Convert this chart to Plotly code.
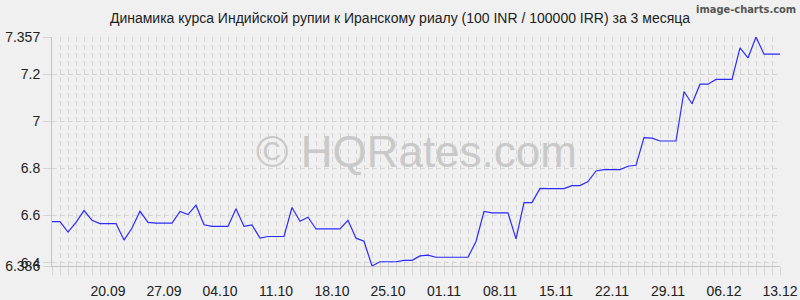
import plotly.graph_objects as go
import pandas as pd

title_text = "Динамика курса Индийской рупии к Иранскому риалу (100 INR / 100000 IRR) за 3 месяца"
start_date = "2025-09-13"
rates = [
    6.574, 6.574, 6.530, 6.571, 6.621, 6.580, 6.566, 6.566, 6.566, 6.496,
    6.547, 6.618, 6.571, 6.568, 6.568, 6.568, 6.617, 6.604, 6.644, 6.561,
    6.554, 6.554, 6.554, 6.629, 6.554, 6.560, 6.504, 6.511, 6.511, 6.511,
    6.634, 6.576, 6.593, 6.543, 6.543, 6.543, 6.543, 6.580, 6.504, 6.491,
    6.386, 6.404, 6.404, 6.404, 6.410, 6.410, 6.429, 6.432, 6.423, 6.423,
    6.423, 6.423, 6.423, 6.490, 6.617, 6.611, 6.611, 6.611, 6.501, 6.655,
    6.655, 6.715, 6.714, 6.714, 6.714, 6.727, 6.727, 6.744, 6.789, 6.795,
    6.795, 6.795, 6.809, 6.813, 6.930, 6.928, 6.916, 6.916, 6.916, 7.126,
    7.074, 7.157, 7.157, 7.177, 7.177, 7.177, 7.311, 7.268, 7.357, 7.284,
    7.284, 7.284,
]
dates = pd.date_range(start_date, periods=len(rates), freq="D")
x_tick_dates = pd.date_range("2025-09-20", "2025-12-13", freq="7D")
x_tick_labels = [d.strftime("%d.%m") for d in x_tick_dates]
y_ticks = [6.386, 6.4, 6.6, 6.8, 7, 7.2, 7.357]
y_tick_labels = ["6.386", "6.4", "6.6", "6.8", "7", "7.2", "7.357"]

grid_color = "#d4d4d4"
font_family = "Liberation Sans, Arial, sans-serif"

fig = go.Figure()
fig.add_trace(go.Scatter(
    x=dates, y=rates, mode="lines",
    line=dict(color="#2b2bff", width=1.2),
    hoverinfo="skip",
))

fig.update_layout(
    width=800, height=300,
    margin=dict(l=52, r=20, t=37, b=34, autoexpand=False),
    paper_bgcolor="#f0f0f0",
    plot_bgcolor="#f0f0f0",
    showlegend=False,
    font=dict(family=font_family, color="#222222", size=14),
    title=dict(text=title_text, x=0.5, xanchor="center", y=0.94, yanchor="middle",
               font=dict(size=14, color="#222222")),
    xaxis=dict(
        type="date",
        range=[dates[0], dates[-1]],
        tickmode="array", tickvals=x_tick_dates, ticktext=x_tick_labels,
        showgrid=True, gridcolor=grid_color, griddash="5px,3px", gridwidth=1,
        ticks="outside", ticklen=8, tickcolor=grid_color,
        ticklabelstandoff=4,
        showline=True, linecolor="#c4c4c4", linewidth=1,
        zeroline=False, automargin=False,
        tickfont=dict(size=14, color="#222222"),
        minor=dict(dtick=86400000, tick0=start_date, showgrid=True, gridcolor=grid_color,
                   griddash="5px,3px", ticks="outside", ticklen=8, tickcolor=grid_color),
    ),
    yaxis=dict(
        range=[6.386, 7.357],
        tickmode="array", tickvals=y_ticks, ticktext=y_tick_labels,
        showgrid=True, gridcolor=grid_color, griddash="5px,3px", gridwidth=1,
        ticks="outside", ticklen=8, tickcolor=grid_color,
        showline=True, linecolor="#c4c4c4", linewidth=1,
        zeroline=False, automargin=False,
        tickfont=dict(size=14, color="#222222"),
    ),
)

fig.add_annotation(
    text="© HQRates.com", xref="paper", yref="paper", x=0.5, y=0.5,
    xanchor="center", yanchor="middle", showarrow=False,
    font=dict(size=44, color="#c9c9c9", family=font_family),
)
fig.add_annotation(
    text="<b>image-charts.com</b>", xref="paper", yref="paper", x=1.0, y=1.0,
    xanchor="right", yanchor="top", showarrow=False,
    font=dict(size=11, color="#555555", family="Liberation Sans Narrow, DejaVu Sans Condensed, sans-serif"),
    yshift=36, xshift=18,
)

fig.write_html("out.html")
